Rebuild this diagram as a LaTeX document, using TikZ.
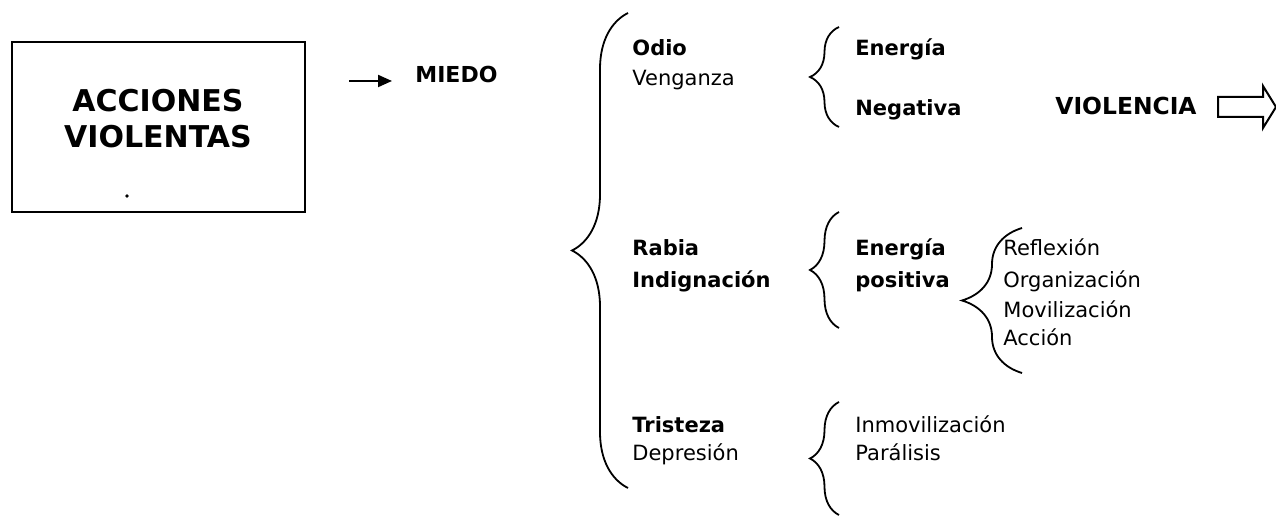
\documentclass[tikz,border=0pt]{standalone}
\usepackage{fontspec}
\setmainfont{DejaVu Sans}
\usetikzlibrary{decorations.pathreplacing,arrows.meta}

\tikzset{
  word/.style={anchor=base west, inner sep=0pt, font=\fontsize{10.5}{15}\selectfont},
  bword/.style={word, font=\fontsize{10.5}{15}\selectfont\bfseries},
  curly/.style={decorate, decoration={brace, amplitude=#1}, line width=0.9pt},
}

\begin{document}
\begin{tikzpicture}[x=0.5pt, y=-0.5pt]
  \useasboundingbox (0,0) rectangle (1276,517);

  % box on the left
  \node[draw, line width=1.2pt, minimum width=146.5pt, minimum height=85pt, inner sep=0pt]
    (box) at (158.5,127) {};
  \node[anchor=base, inner sep=0pt, font=\fontsize{15}{19}\selectfont\bfseries]
    (acciones) at (158,112) {ACCIONES};
  \node[anchor=base, inner sep=0pt, font=\fontsize{15}{19}\selectfont\bfseries]
    (violentas) at (158,148) {VIOLENTAS};
  \fill (127,196) circle (0.9pt);

  % miedo
  \node[bword, font=\fontsize{11}{13}\selectfont\bfseries] (miedo) at (415,83) {MIEDO};
  \draw[line width=1pt, -{Triangle[length=7pt, width=6pt]}, shorten <=21.5pt, shorten >=11.5pt]
    ([yshift=-3pt]box.east |- miedo.west) -- ([yshift=-3pt]miedo.west);

  % first brace
  \draw[curly=28pt] (628,488) -- (628,13);

  % odio / venganza
  \node[bword] (odio) at (632,56) {Odio};
  \node[word] (venganza) at (632,86) {Venganza};
  \draw[curly=14.5pt] (839,127) -- (839,27);
  \node[bword] (energia) at (855,56) {Energía};
  \node[bword] (negativa) at (855,116) {Negativa};
  \node[bword, font=\fontsize{11.7}{14}\selectfont\bfseries] (violencia) at (1055,115) {VIOLENCIA};
  \draw[line width=1pt, line join=miter]
    (1218,97) -- (1263,97) -- (1263,86) -- (1276,107) -- (1263,128) -- (1263,117) -- (1218,117) -- cycle;

  % rabia / indignacion
  \node[bword] (rabia) at (632,256) {Rabia};
  \node[bword] (indignacion) at (632,288) {Indignación};
  \draw[curly=14.5pt] (839,328) -- (839,212);
  \node[bword] (energiapos) at (855,256) {Energía};
  \node[bword] (positiva) at (855,288) {positiva};
  \draw[curly=30pt] (1022,373) -- (1022,228);
  \node[word] (reflexion) at (1003,256) {Reflexión};
  \node[word] (organizacion) at (1003,288) {Organización};
  \node[word] (movilizacion) at (1003,318) {Movilización};
  \node[word] (accion) at (1003,346) {Acción};

  % tristeza / depresion
  \node[bword] (tristeza) at (632,433) {Tristeza};
  \node[word] (depresion) at (632,461) {Depresión};
  \draw[curly=14.5pt] (839,515) -- (839,402);
  \node[word] (inmovilizacion) at (855,433) {Inmovilización};
  \node[word] (paralisis) at (855,461) {Parálisis};
\end{tikzpicture}
\end{document}
